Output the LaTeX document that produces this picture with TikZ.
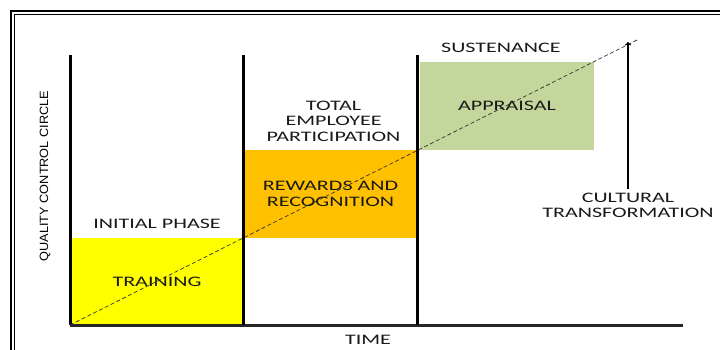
\documentclass[tikz,border=0pt]{standalone}
\usepackage{fontspec}
\setmainfont{Carlito}
\newfontfamily\axisfont{Liberation Sans}
\usetikzlibrary{arrows,positioning}

\definecolor{trainyellow}{HTML}{FFFF00}
\definecolor{rewardorange}{HTML}{FFC000}
\definecolor{appraisalgreen}{HTML}{C3D69B}

\begin{document}
\begin{tikzpicture}[x=1pt,y=-1pt,>=to,
  phase/.style={draw=none, minimum height=88pt, inner sep=0pt},
  caps/.style={font=\fontsize{14.5}{15.5}\selectfont, xscale=1.52, align=center, text=black!90},
  axis/.style={line width=3pt}]
  \useasboundingbox (0,0) rectangle (720,349);
  % double frame round the whole slide
  \draw[line width=2.4pt] (11,11) rectangle (740,370);
  \draw[line width=0.9pt] (14,14) rectangle (737,367);

  % the three phase boxes
  \node[phase, fill=trainyellow, minimum width=171pt] (training) at (157,281.5) {};
  \node[phase, fill=rewardorange, minimum width=171pt] (rewards) at (330.5,194) {};
  \node[phase, fill=appraisalgreen, minimum width=174pt] (appraisal) at (507,106) {};

  % growth line
  \coordinate (origin) at (70,325);
  \coordinate (trend) at (637,40);
  \draw[dashed, dash pattern=on 4pt off 2.5pt, line width=0.7pt, black!80] (origin) -- (trend);

  % axes and phase dividers
  \coordinate (ytop) at (70,55);
  \coordinate (xend) at (683,325);
  \coordinate (divA) at (243,55);
  \coordinate (divAb) at (243,325);
  \coordinate (divB) at (417,55);
  \coordinate (divBb) at (417,325);
  \draw[axis] (ytop) -- (origin);
  \draw[axis, black!85] (origin) -- (xend);
  \draw[axis] (divA) -- (divAb);
  \draw[axis] (divB) -- (divBb);

  % box texts
  \node[caps] (trainingtext) at (training) {TRAINING};
  \node[caps] (rewardstext) at (rewards) {REWARDS AND\\RECOGNITION};
  \node[caps] (appraisaltext) at (appraisal) {APPRAISAL};

  % phase titles
  \node[caps] (initial) [above=5pt of training] {INITIAL PHASE};
  \node[caps] (total) [above=5pt of rewards, xshift=2pt] {TOTAL\\EMPLOYEE\\PARTICIPATION};
  \node[caps] (sustenance) [above=6pt of appraisal, xshift=-4pt] {SUSTENANCE};

  % axis labels
  \node[caps] (time) at (368,340) {TIME};
  \node[font=\axisfont\fontsize{12}{12}\selectfont, rotate=90, xscale=1.06] (qcc) at (45,176) {QUALITY CONTROL CIRCLE};

  % cultural transformation arrow
  \node[caps] (culture) at (628,205.5) {CULTURAL\\TRANSFORMATION};
  \coordinate (culttop) at (628,42);
  \draw[->, line width=1.3pt] (culture.north) -- (culttop);
\end{tikzpicture}
\end{document}
